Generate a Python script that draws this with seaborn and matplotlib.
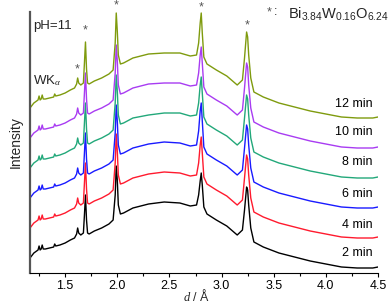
import matplotlib
matplotlib.use("Agg")
import matplotlib.pyplot as plt
import seaborn as sns
import pandas as pd

# d-spacing grid (Å)
d_values = [1.163, 1.20, 1.24, 1.25, 1.26, 1.27, 1.28, 1.29, 1.31, 1.35, 1.39, 1.40, 1.41,
            1.45, 1.50, 1.55, 1.59, 1.61, 1.62, 1.63, 1.65, 1.675, 1.685, 1.695, 1.705,
            1.715, 1.73, 1.78, 1.85, 1.92, 1.96, 1.98, 1.99, 2.00, 2.01, 2.03, 2.06, 2.15,
            2.30, 2.45, 2.60, 2.70, 2.76, 2.78, 2.795, 2.805, 2.815, 2.83, 2.86, 2.95,
            3.05, 3.15, 3.20, 3.22, 3.24, 3.25, 3.26, 3.28, 3.31, 3.40, 3.55, 3.70, 3.85,
            4.00, 4.15, 4.30, 4.45, 4.50]

int_2min = [15, 20, 23, 27, 23, 24, 28, 24, 24, 25, 26, 29, 27,
            28, 30, 33, 35, 39, 45, 40, 38, 40, 58, 78, 53,
            40, 39, 42, 45, 49, 53, 78, 107, 93, 68, 59, 60, 65,
            69, 71, 70, 67, 68, 78, 92, 100, 88, 66, 59, 53,
            47, 38, 43, 63, 86, 83, 68, 45, 31, 26, 20, 16, 12,
            9, 6, 5, 5, 6]
int_4min = [45, 50, 53, 57, 53, 54, 58, 54, 54, 55, 56, 59, 57,
            58, 60, 63, 65, 69, 75, 70, 68, 70, 90, 110, 84,
            70, 69, 72, 75, 79, 83, 110, 139, 122, 98, 89, 90, 95,
            99, 101, 100, 97, 98, 110, 128, 136, 120, 96, 89, 83,
            77, 68, 73, 95, 118, 114, 98, 75, 61, 56, 50, 46, 42,
            39, 36, 35, 35, 36]
int_6min = [75, 80, 83, 87, 83, 84, 88, 84, 84, 85, 86, 89, 87,
            88, 90, 93, 95, 99, 105, 100, 98, 100, 120, 140, 114,
            100, 99, 102, 105, 109, 113, 140, 168, 152, 128, 119, 120, 125,
            129, 131, 130, 127, 128, 142, 162, 170, 152, 126, 119, 113,
            107, 98, 103, 125, 148, 144, 128, 105, 91, 86, 80, 76, 72,
            69, 66, 65, 65, 66]
int_8min = [105, 110, 113, 117, 113, 114, 118, 114, 114, 115, 116, 119, 117,
            118, 120, 123, 125, 129, 135, 130, 128, 130, 150, 170, 144,
            130, 129, 132, 135, 139, 143, 170, 198, 182, 158, 149, 150, 155,
            158, 160, 160, 157, 158, 170, 188, 196, 180, 156, 149, 143,
            137, 128, 133, 155, 178, 174, 158, 135, 121, 116, 110, 106, 102,
            99, 96, 95, 95, 96]
int_10min = [135, 140, 143, 147, 143, 144, 148, 144, 144, 145, 146, 149, 147,
             148, 150, 153, 155, 159, 165, 160, 158, 160, 180, 200, 174,
             160, 159, 162, 165, 169, 173, 200, 228, 212, 188, 179, 180, 185,
             189, 190, 190, 187, 188, 200, 218, 226, 210, 186, 179, 173,
             167, 158, 163, 185, 210, 206, 188, 165, 151, 146, 140, 136, 132,
             129, 126, 125, 125, 126]
int_12min = [165, 170, 173, 177, 173, 174, 178, 174, 174, 175, 176, 179, 177,
             178, 180, 183, 185, 189, 195, 190, 188, 190, 210, 231, 204,
             190, 189, 192, 195, 199, 203, 230, 260, 242, 218, 209, 210, 215,
             219, 220, 220, 217, 218, 230, 250, 260, 240, 216, 209, 203,
             197, 188, 193, 215, 241, 236, 218, 195, 181, 176, 170, 166, 162,
             159, 156, 155, 155, 156]

series_labels = ["2 min", "4 min", "6 min", "8 min", "10 min", "12 min"]
series_colors = ["#000000", "#ff1a2e", "#1a1aff", "#22a87a", "#a83cf2", "#7f9b0e"]
x_ticks = [1.5, 2.0, 2.5, 3.0, 3.5, 4.0, 4.5]

# label anchors (intensity units)
label_y = [20, 48, 79, 111, 141, 169]
star_d = [1.62, 1.695, 1.99, 2.805, 3.245]
star_y = [204, 243, 268, 266, 248]

sns.set_theme(style="white")
plt.rcParams['font.family'] = ['Liberation Sans', 'DejaVu Sans']
plt.rcParams['mathtext.fontset'] = 'custom'
plt.rcParams['mathtext.rm'] = 'Liberation Sans'
plt.rcParams['mathtext.it'] = 'Liberation Serif:italic'

rows = []
for lab, vals in zip(series_labels, [int_2min, int_4min, int_6min, int_8min, int_10min, int_12min]):
    for d, v in zip(d_values, vals):
        rows.append({"d": d, "I": v, "t": lab})
df = pd.DataFrame(rows)

fig = plt.figure(figsize=(3.88, 3.06), dpi=100)
ax = fig.add_axes([30/388, 1-273/306, 348/388, 261/306])

sns.lineplot(data=df, x="d", y="I", hue="t", palette=series_colors,
             hue_order=series_labels, ax=ax, linewidth=1.0, legend=False,
             sort=False, estimator=None)

ax.set_xlim(1.163, 4.5)
ax.set_ylim(0, 261)
ax.set_xticks(x_ticks)
ax.set_xticklabels([f"{t:.1f}" for t in x_ticks], fontsize=9)
ax.set_xticks([1.25, 1.75, 2.25, 2.75, 3.25, 3.75, 4.25], minor=True)
ax.tick_params(axis='x', which='both', direction='out', length=3, width=0.8,
               bottom=True, pad=2, colors='black')
ax.tick_params(axis='x', which='minor', length=2)
ax.set_yticks([])
for s in ['top', 'right']:
    ax.spines[s].set_visible(False)
ax.spines['left'].set_color('#555555')
ax.spines['left'].set_linewidth(1.6)
ax.spines['bottom'].set_color('black')
ax.spines['bottom'].set_linewidth(0.8)

ax.set_xlabel("")
fig.text(196/388, 1-296/306, r"$d$ / Å", fontsize=9, ha='center', va='center')
ax.set_ylabel("Intensity", fontsize=10, labelpad=5)

for lab, yv in zip(series_labels, label_y):
    ax.text(4.45, yv, lab, fontsize=9, ha='right', va='center', color='black')

for sd, sy in zip(star_d, star_y):
    ax.text(sd, sy, "*", fontsize=9, ha='center', va='center', color='#555555')

ax.text(1.195, 247, "pH=11", fontsize=9.5, ha='left', va='center')
ax.text(1.195, 192, r"WK$_{\alpha}$", fontsize=9.5, ha='left', va='center')
ax.text(3.46, 261, "*", fontsize=9, ha='center', va='center', color='#555555')
ax.text(3.52, 261, ":", fontsize=9, ha='center', va='center')
ax.text(3.64, 259, r"Bi$_{3.84}$W$_{0.16}$O$_{6.24}$", fontsize=10.5, ha='left', va='center')

fig.savefig("out.png", dpi=100)
